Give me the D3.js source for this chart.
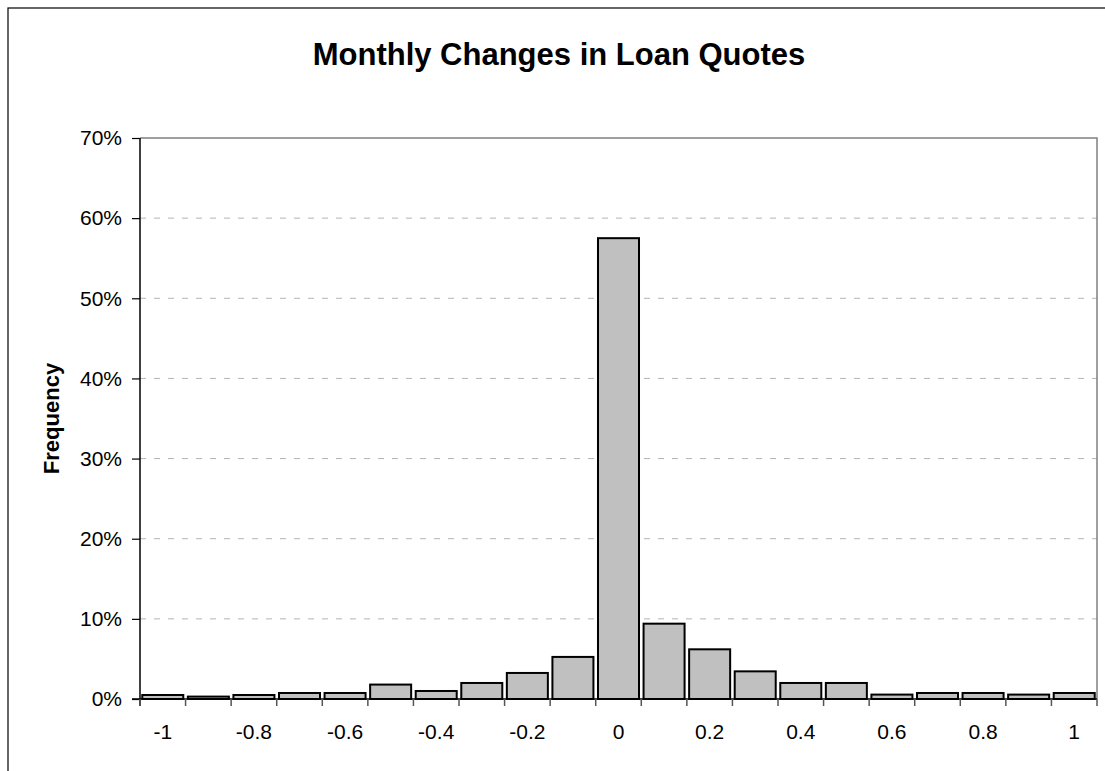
<!DOCTYPE html>
<html>
<head>
<meta charset="utf-8">
<script src="https://cdn.jsdelivr.net/npm/d3@7"></script>
<style>
  html, body { margin: 0; padding: 0; background: #fff; }
  svg { display: block; font-family: "Liberation Sans", Arial, sans-serif; }
</style>
</head>
<body>
<svg id="chart" width="1105" height="771"></svg>
<script>
const categories = ["-1","-0.9","-0.8","-0.7","-0.6","-0.5","-0.4","-0.3","-0.2","-0.1","0","0.1","0.2","0.3","0.4","0.5","0.6","0.7","0.8","0.9","1"];
const frequency = [0.5, 0.3, 0.5, 0.75, 0.75, 1.8, 1.0, 2.0, 3.25, 5.25, 57.5, 9.4, 6.2, 3.45, 2.0, 2.0, 0.55, 0.75, 0.75, 0.55, 0.75];
const xTickLabels = ["-1","-0.8","-0.6","-0.4","-0.2","0","0.2","0.4","0.6","0.8","1"];
const yTickValues = [0, 10, 20, 30, 40, 50, 60, 70];
const title = "Monthly Changes in Loan Quotes";
const yTitle = "Frequency";

const svg = d3.select("#chart");
const plot = { left: 140, right: 1097, top: 138, bottom: 699 };

// outer chart border (extends beyond the visible window on right/bottom)
svg.append("rect").attr("x", 8).attr("y", 8).attr("width", 1200).attr("height", 900)
  .attr("fill", "#fff").attr("stroke", "#000").attr("stroke-width", 1.2);

const x = d3.scaleBand().domain(categories).range([plot.left, plot.right])
  .paddingInner(0.1).paddingOuter(0.05);
const y = d3.scaleLinear().domain([0, 70]).range([plot.bottom, plot.top]);

// gridlines
svg.append("g").selectAll("line").data(yTickValues.filter(v => v > 0 && v < 70)).join("line")
  .attr("x1", plot.left).attr("x2", plot.right)
  .attr("y1", d => y(d)).attr("y2", d => y(d))
  .attr("stroke", "#b4b4b4").attr("stroke-width", 1).attr("stroke-dasharray", "6,8");

// plot frame top/right
svg.append("path")
  .attr("d", `M${plot.left},${y(70)}H${plot.right}V${plot.bottom}`)
  .attr("fill", "none").attr("stroke", "#808080").attr("stroke-width", 1.5);

// bars
svg.append("g").selectAll("rect").data(categories).join("rect")
  .attr("x", d => x(d))
  .attr("y", (d, i) => y(frequency[i]))
  .attr("width", x.bandwidth())
  .attr("height", (d, i) => y(0) - y(frequency[i]))
  .attr("fill", "#c0c0c0").attr("stroke", "#000").attr("stroke-width", 2);

// y axis
const yAxis = svg.append("g").attr("transform", `translate(${plot.left},0)`)
  .call(d3.axisLeft(y).tickValues(yTickValues).tickFormat(d => d + "%").tickSize(8).tickPadding(10));
yAxis.select(".domain").attr("stroke", "#000").attr("stroke-width", 1.5)
  .attr("d", `M0,${plot.top}V${plot.bottom + 7}`);
yAxis.selectAll(".tick line").attr("stroke", "#000").attr("stroke-width", 1.2);
yAxis.selectAll(".tick text").attr("font-size", 21).attr("fill", "#000")
  .attr("font-family", "'Liberation Sans', Arial, sans-serif");

// x axis
const xAxis = svg.append("g").attr("transform", `translate(0,${plot.bottom})`)
  .call(d3.axisBottom(x).tickValues(xTickLabels).tickSize(0).tickPadding(25));
xAxis.select(".domain").attr("stroke", "#000").attr("stroke-width", 1.5)
  .attr("d", `M${plot.left - 8},0H${plot.right}`);
xAxis.selectAll(".tick text").attr("font-size", 21).attr("fill", "#000")
  .attr("font-family", "'Liberation Sans', Arial, sans-serif");

// boundary ticks between categories
const step = (plot.right - plot.left) / categories.length;
xAxis.append("g").selectAll("line").data(d3.range(categories.length + 1)).join("line")
  .attr("x1", i => plot.left + i * step).attr("x2", i => plot.left + i * step)
  .attr("y1", 0).attr("y2", 7)
  .attr("stroke", "#555").attr("stroke-width", 1.5);

// title
svg.append("text").attr("x", 559).attr("y", 65).attr("text-anchor", "middle")
  .attr("font-size", 31).attr("font-weight", "bold").text(title);

// y title
svg.append("text").attr("transform", `translate(59,${(plot.top + plot.bottom) / 2}) rotate(-90)`)
  .attr("text-anchor", "middle").attr("font-size", 22).attr("font-weight", "bold").text(yTitle);
</script>
</body>
</html>
